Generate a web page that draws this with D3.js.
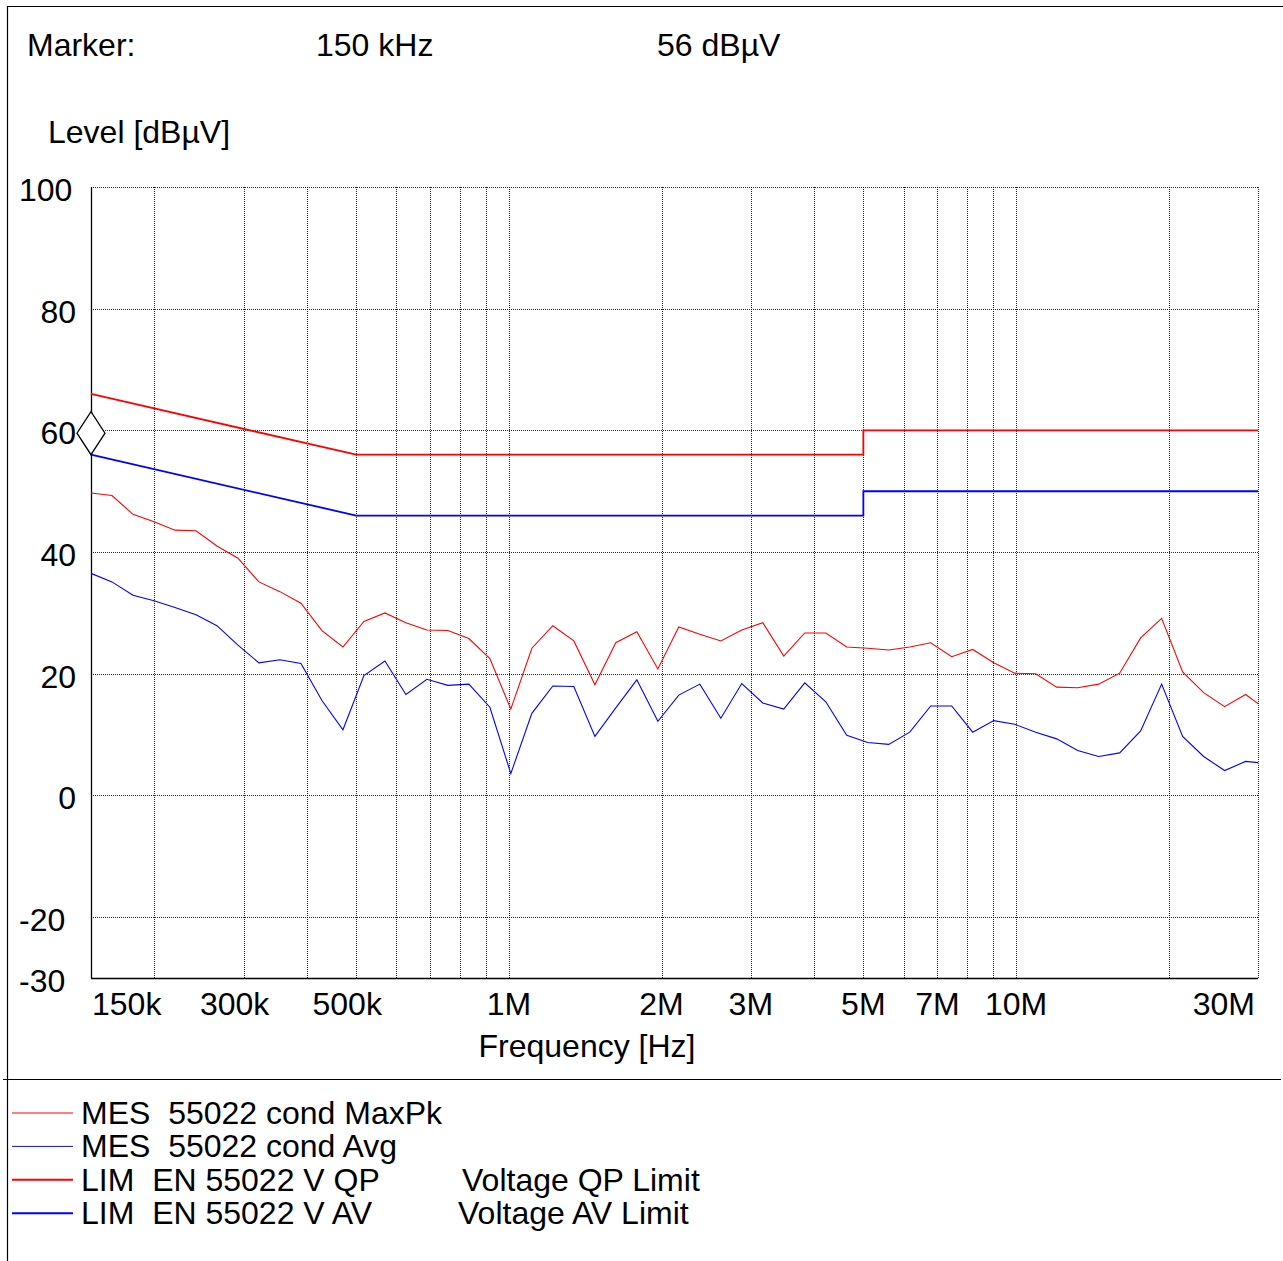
<!DOCTYPE html>
<html><head><meta charset="utf-8">
<script src="https://cdn.jsdelivr.net/npm/d3@7"></script>
<style>
html,body{margin:0;padding:0;background:#fff;}
svg text{font-family:"Liberation Sans",Arial,sans-serif;font-size:32px;fill:#000;white-space:pre;}
</style></head>
<body>
<svg id="chart" width="1283" height="1261"></svg>
<script>
// ---------- data ----------
const freqKHz = [150,165,181.5,199.7,219.6,241.6,265.7,292.3,321.5,353.7,389.1,428,470.8,517.9,569.7,626.6,689.3,758.2,834,917.4,
  1009,1110,1221,1343,1478,1625,1788,1967,2163,2380,2618,2879,3167,3484,3832,4216,4637,5101,5611,6172,
  6789,7468,8215,9037,9940,10934,12027,13230,14553,16008,17609,19370,21307,23438,25782,28360,30000];
const maxPk = [49.7,49.3,46.2,45.0,43.6,43.5,41.0,39.0,35.1,33.5,31.6,27.1,24.4,28.6,30.0,28.4,27.2,27.1,25.8,22.5,
  14.2,24.2,27.9,25.4,18.2,25.1,26.9,20.8,27.7,26.5,25.4,27.2,28.4,22.9,26.7,26.7,24.4,24.2,23.9,24.4,
  25.1,22.8,24.0,21.8,20.1,20.0,17.8,17.7,18.3,20.1,25.9,29.1,20.3,16.9,14.6,16.6,15.1];
const avg = [36.5,35.1,32.9,32.0,30.9,29.7,27.9,24.7,21.8,22.3,21.7,15.6,10.8,19.7,22.1,16.6,19.1,18.1,18.3,14.5,
  3.6,13.5,18.0,17.9,9.7,14.4,19.0,12.2,16.5,18.3,12.7,18.4,15.2,14.2,18.5,15.4,9.9,8.7,8.4,10.4,
  14.7,14.7,10.4,12.3,11.7,10.4,9.3,7.4,6.4,7.0,10.6,18.3,9.7,6.4,4.1,5.6,5.4];
const limFreqKHz = [150,500,5000,5000,30000];
const limQP = [66,56,56,60,60];
const limAV = [56,46,46,50,50];
const xGridKHz = [200,300,400,500,600,700,800,900,1000,2000,3000,4000,5000,6000,7000,8000,9000,10000,20000,30000];
const yGrid = [-20,0,20,40,60,80,100];
const yTickLabels = ["100","80","60","40","20","0","-20","-30"];
const yTickValues = [100,80,60,40,20,0,-20,-30];
const xTickKHz = [150,300,500,1000,2000,3000,5000,7000,10000,30000];
const xTickLabels = ["150k","300k","500k","1M","2M","3M","5M","7M","10M","30M"];
const markerFreqKHz = 150, markerLevel = 56;
const legendItems = [
  {label:"MES  55022 cond MaxPk", note:"", color:"#ff0000", w:1},
  {label:"MES  55022 cond Avg", note:"", color:"#1010c0", w:1},
  {label:"LIM  EN 55022 V QP", note:"Voltage QP Limit", color:"#ff0000", w:2},
  {label:"LIM  EN 55022 V AV", note:"Voltage AV Limit", color:"#0000ff", w:2}
];

// ---------- drawing ----------
const svg = d3.select("#chart");
const L = 91, R = 1258, T = 187, B = 978;
const x = d3.scaleLog().domain([150e3, 30e6]).range([L, R]);
const y = d3.scaleLinear().domain([-30, 100]).range([B, T]);

// frame
svg.append("line").attr("x1",7).attr("x2",1283).attr("y1",6.5).attr("y2",6.5).attr("stroke","#000").attr("stroke-width",1.2);
svg.append("line").attr("x1",7.5).attr("x2",7.5).attr("y1",6).attr("y2",1261).attr("stroke","#000").attr("stroke-width",1.2);
svg.append("line").attr("x1",3).attr("x2",1281).attr("y1",1079.5).attr("y2",1079.5).attr("stroke","#000").attr("stroke-width",1.2);

// header
svg.append("text").attr("x",27).attr("y",56).text("Marker:");
svg.append("text").attr("x",316).attr("y",56).text("150 kHz");
svg.append("text").attr("x",657).attr("y",56).text("56 dBµV");
svg.append("text").attr("x",48).attr("y",143).text("Level [dBµV]");

// grid
const g = svg.append("g");
g.selectAll("line.vg").data(xGridKHz).join("line")
  .attr("x1",d=>Math.round(x(d*1e3))+0.5).attr("x2",d=>Math.round(x(d*1e3))+0.5)
  .attr("y1",T).attr("y2",B)
  .attr("stroke","#000").attr("stroke-width",1).attr("stroke-dasharray","1,1").attr("opacity",0.85);
g.selectAll("line.hg").data(yGrid).join("line")
  .attr("x1",L).attr("x2",R)
  .attr("y1",d=>Math.round(y(d))+0.5).attr("y2",d=>Math.round(y(d))+0.5)
  .attr("stroke","#000").attr("stroke-width",1).attr("stroke-dasharray","1,1").attr("opacity",0.85);

// axes lines
svg.append("line").attr("x1",L+0.5).attr("x2",L+0.5).attr("y1",T).attr("y2",B).attr("stroke","#000").attr("stroke-width",1.3);
svg.append("line").attr("x1",L).attr("x2",R).attr("y1",B+0.5).attr("y2",B+0.5).attr("stroke","#000").attr("stroke-width",1.3);

// y tick labels
svg.selectAll("text.yt").data(yTickValues).join("text")
  .attr("x",(d,i)=>yTickLabels[i].length>=3 ? 19 : 76)
  .attr("text-anchor",(d,i)=>yTickLabels[i].length>=3 ? "start" : "end")
  .attr("y",d=>y(d)+14)
  .text((d,i)=>yTickLabels[i]);

// x tick labels
svg.selectAll("text.xt").data(xTickKHz).join("text")
  .attr("x",(d,i)=>{
    if(i===0) return L+1;
    if(i===xTickKHz.length-1) return R-3;
    return x(d*1e3) + (xTickLabels[i].endsWith("k") ? -9 : 0);
  })
  .attr("text-anchor",(d,i)=> i===0 ? "start" : (i===xTickKHz.length-1 ? "end" : "middle"))
  .attr("y",1015)
  .text((d,i)=>xTickLabels[i]);
svg.append("text").attr("x",587).attr("y",1057).attr("text-anchor","middle").text("Frequency [Hz]");

// limit lines
const limLine = d3.line().x(d=>x(d[0]*1e3)).y(d=>y(d[1]));
svg.append("path").attr("d",limLine(limFreqKHz.map((f,i)=>[f,limQP[i]])))
  .attr("fill","none").attr("stroke","#ff0000").attr("stroke-width",1.8);
svg.append("path").attr("d",limLine(limFreqKHz.map((f,i)=>[f,limAV[i]])))
  .attr("fill","none").attr("stroke","#0000ff").attr("stroke-width",1.8);

// measurement lines
svg.append("path").attr("d",limLine(freqKHz.map((f,i)=>[f,maxPk[i]])))
  .attr("fill","none").attr("stroke","#ff0000").attr("stroke-width",1.1);
svg.append("path").attr("d",limLine(freqKHz.map((f,i)=>[f,avg[i]])))
  .attr("fill","none").attr("stroke","#0000ff").attr("stroke-width",1.1);

// marker diamond
const mx = x(markerFreqKHz*1e3), my = y(markerLevel);
svg.append("path")
  .attr("d",`M${mx},${my} L${mx+14},${my-21.5} L${mx},${my-43} L${mx-14},${my-21.5} Z`)
  .attr("fill","#fff").attr("stroke","#000").attr("stroke-width",1.3);

// legend
const lg = svg.append("g");
legendItems.forEach((it,i)=>{
  const ly = 1113 + i*33.4;
  lg.append("line").attr("x1",12).attr("x2",73).attr("y1",ly).attr("y2",ly)
    .attr("stroke",it.color).attr("stroke-width",it.w);
  lg.append("text").attr("x",81).attr("y",ly+11).text(it.label);
  if(it.note) lg.append("text").attr("x", i===2 ? 462 : 458).attr("y",ly+11).text(it.note);
});
</script>
</body></html>
